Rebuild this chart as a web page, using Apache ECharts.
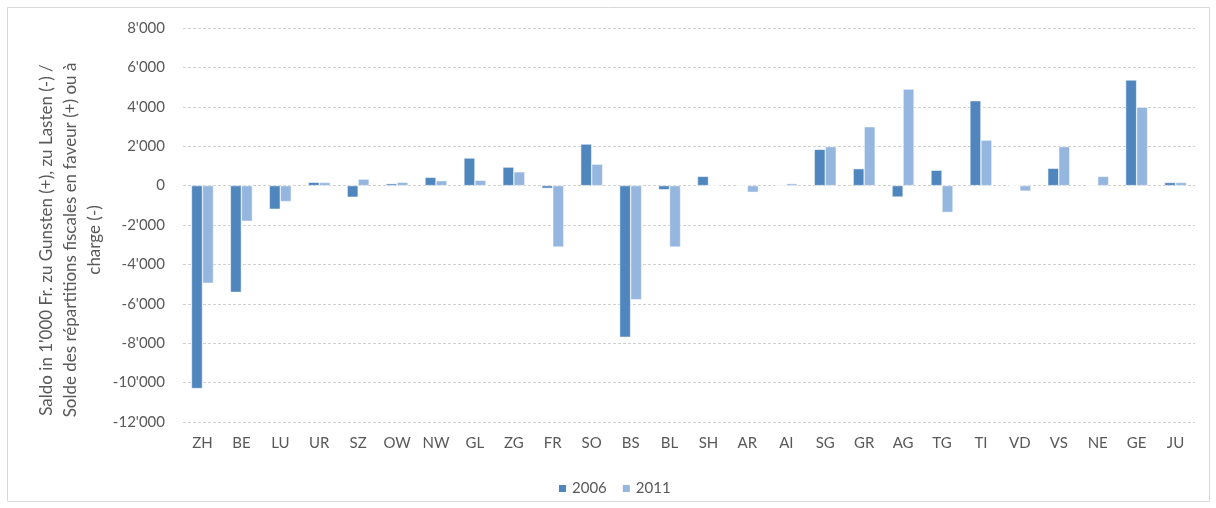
<!DOCTYPE html>
<html>
<head>
<meta charset="utf-8">
<script src="https://cdn.jsdelivr.net/npm/echarts@6/dist/echarts.min.js"></script>
<style>
  html, body { margin: 0; padding: 0; background: #fff; }
  #chart { width: 1216px; height: 508px; }
</style>
</head>
<body>
<div id="chart"></div>
<script>
// cantons
const cantons = ['ZH', 'BE', 'LU', 'UR', 'SZ', 'OW', 'NW', 'GL', 'ZG', 'FR', 'SO', 'BS', 'BL', 'SH', 'AR',
  'AI', 'SG', 'GR', 'AG', 'TG', 'TI', 'VD', 'VS', 'NE', 'GE', 'JU']

// saldo in 1'000 Fr.
const saldo2006 = [-10300, -5420, -1200, 170, -590, 100, 420, 1400, 940, -140, 2110, -7700, -210, 470, 0,
  0, 1840, 860, -580, 780, 4310, 0, 880, 0, 5360, 160]
const saldo2011 = [-4960, -1810, -810, 160, 330, 170, 250, 270, 700, -3120, 1090, -5790, -3120, 0, -340,
  100, 1980, 2990, 4900, -1360, 2310, -280, 1980, 470, 3980, 160]

const yTicks = { min: -12000, max: 8000, step: 2000 }

const textColor = '#595959'
const fontFamily = 'Lato'

function fmt(v) {
  const s = String(Math.abs(v)).replace(/\B(?=(\d{3})+(?!\d))/g, '\'')
  return (v < 0 ? '-' : '') + s
}

const chart = echarts.init(document.getElementById('chart'))
chart.setOption({
  animation: false,
  textStyle: { fontFamily: fontFamily },
  graphic: [{
    type: 'rect',
    shape: { x: 7.5, y: 7.5, width: 1202, height: 494 },
    style: { fill: 'none', stroke: '#d9d9d9', lineWidth: 1 },
    silent: true
  }],
  grid: {
    left: 183,
    right: 21,
    top: 28,
    bottom: 86,
    outerBoundsMode: 'none'
  },
  legend: {
    left: 552,
    top: 476,
    itemWidth: 9,
    itemHeight: 9,
    itemGap: 14,
    icon: 'rect',
    textStyle: { color: textColor, fontSize: 15, fontFamily: fontFamily },
    data: ['2006', '2011']
  },
  xAxis: {
    type: 'category',
    data: cantons,
    axisLine: { show: false },
    axisTick: { show: false },
    axisLabel: { color: textColor, fontSize: 15, margin: 14, interval: 0 }
  },
  yAxis: {
    type: 'value',
    min: yTicks.min,
    max: yTicks.max,
    interval: yTicks.step,
    name: 'Saldo in 1\'000 Fr. zu Gunsten (+), zu Lasten (-) /\nSolde des répartitions fiscales en faveur (+) ou à\ncharge (-)',
    nameLocation: 'middle',
    nameRotate: 90,
    nameGap: 76,
    nameMoveOverlap: false,
    nameTextStyle: { color: textColor, fontSize: 17, lineHeight: 24, align: 'center', padding: [0, 30, 0, 0] },
    axisLine: { show: false },
    axisTick: { show: false },
    axisLabel: { color: textColor, fontSize: 15, margin: 18, formatter: fmt },
    splitLine: { lineStyle: { color: '#d0d0d0', type: [3, 2], width: 1 } }
  },
  series: [{
    name: '2006',
    type: 'bar',
    data: saldo2006,
    barWidth: 11,
    barGap: '0%',
    itemStyle: { color: '#4f86bd', borderColor: '#ffffff', borderWidth: 0.5 }
  }, {
    name: '2011',
    type: 'bar',
    data: saldo2011,
    barWidth: 11,
    itemStyle: { color: '#95b6de', borderColor: '#ffffff', borderWidth: 0.5 }
  }]
})
</script>
</body>
</html>
